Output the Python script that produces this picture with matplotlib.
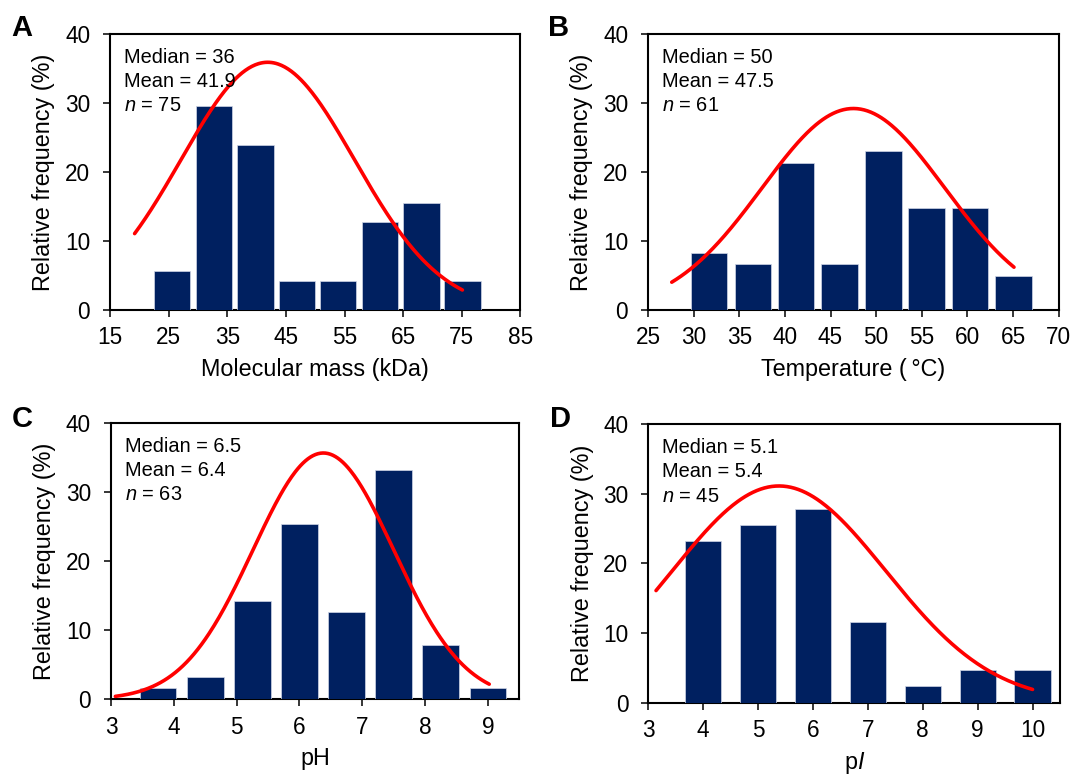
import numpy as np
import matplotlib
matplotlib.use("Agg")
import matplotlib.pyplot as plt

plt.rcParams['font.family'] = ['Liberation Sans', 'DejaVu Sans']
plt.rcParams['mathtext.fontset'] = 'custom'
plt.rcParams['mathtext.rm'] = 'Liberation Sans'
plt.rcParams['mathtext.it'] = 'Liberation Sans:italic'

# ---------------- data ----------------
# Panel A: molecular mass
a_centers = [25.6, 32.7, 39.8, 46.9, 53.9, 61.0, 68.1, 75.1]
a_freq = [5.6, 29.5, 23.9, 4.2, 4.2, 12.7, 15.5, 4.2]
a_fit = dict(mean=41.9, sd=14.8, peak=35.9, x0=19.2, x1=75.1)
a_stats = ["Median = 36", "Mean = 41.9", "$n$ = 75"]

# Panel B: temperature
b_centers = [31.7, 36.5, 41.2, 46.0, 50.8, 55.5, 60.3, 65.05]
b_freq = [8.2, 6.6, 21.3, 6.6, 23.0, 14.75, 14.75, 4.9]
b_fit = dict(mean=47.5, sd=10.0, peak=29.2, x0=27.6, x1=65.1)
b_stats = ["Median = 50", "Mean = 47.5", "$n$ = 61"]

# Panel C: pH
c_centers = [3.75, 4.5, 5.25, 6.0, 6.75, 7.5, 8.25, 9.0]
c_freq = [1.6, 3.2, 14.3, 25.4, 12.7, 33.3, 7.9, 1.6]
c_fit = dict(mean=6.38, sd=1.12, peak=35.7, x0=3.07, x1=9.02)
c_stats = ["Median = 6.5", "Mean = 6.4", "$n$ = 63"]

# Panel D: pI
d_centers = [4, 5, 6, 7, 8, 9, 10]
d_freq = [23.2, 25.5, 27.8, 11.5, 2.3, 4.6, 4.6]
d_fit = dict(mean=5.38, sd=1.95, peak=31.1, x0=3.14, x1=10.0)
d_stats = ["Median = 5.1", "Mean = 5.4", "$n$ = 45"]

BAR = '#002060'
RED = '#ff0000'

fig = plt.figure(figsize=(10.72, 7.76), dpi=100)

panels = [
    dict(rect=[0.1026, 0.6005, 0.3829, 0.3557], c=a_centers, f=a_freq, fit=a_fit,
         stats=a_stats, w=6.2, xlim=(15, 85), xt=np.arange(15, 86, 10),
         xlabel='Molecular mass (kDa)', letter='A', lx=22, ly=28),
    dict(rect=[0.6045, 0.6005, 0.3831, 0.3557], c=b_centers, f=b_freq, fit=b_fit,
         stats=b_stats, w=4.0, xlim=(25, 70), xt=np.arange(25, 71, 5),
         xlabel='Temperature (\u2009°C)', letter='B', lx=559, ly=28),
    dict(rect=[0.1035, 0.0986, 0.3810, 0.3559], c=c_centers, f=c_freq, fit=c_fit,
         stats=c_stats, w=0.585, xlim=(3, 9.5), xt=np.arange(3, 10, 1),
         xlabel='pH', letter='C', lx=22, ly=419),
    dict(rect=[0.6048, 0.0947, 0.3840, 0.3589], c=d_centers, f=d_freq, fit=d_fit,
         stats=d_stats, w=0.66, xlim=(3, 10.5), xt=np.arange(3, 11, 1),
         xlabel='p$I$', letter='D', lx=561, ly=419),
]

W, H = 1072, 776
for p in panels:
    ax = fig.add_axes(p['rect'])
    ax.bar(p['c'], p['f'], width=p['w'], color=BAR, edgecolor='#d0d6e6',
           linewidth=0.5, zorder=3)
    fit = p['fit']
    xs = np.linspace(fit['x0'], fit['x1'], 300)
    ys = fit['peak'] * np.exp(-0.5 * ((xs - fit['mean']) / fit['sd']) ** 2)
    ax.plot(xs, ys, color=RED, lw=2.6, zorder=4, solid_capstyle='round')
    ax.set_xlim(*p['xlim'])
    ax.set_ylim(0, 40)
    ax.set_xticks(p['xt'])
    ax.set_yticks([0, 10, 20, 30, 40])
    for s in ax.spines.values():
        s.set_linewidth(1.5)
        s.set_color('black')
    ax.tick_params(axis='both', direction='out', length=4.8, width=1.1,
                   labelsize=16.3, color='black')
    ax.tick_params(axis='x', pad=7)
    ax.tick_params(axis='y', pad=9.5)
    ax.set_ylabel('Relative frequency (%)', fontsize=16.8, labelpad=7)
    ax.set_xlabel(p['xlabel'], fontsize=16.8, labelpad=6)
    ys_txt = [0.895, 0.808, 0.721]
    for t, yy in zip(p['stats'], ys_txt):
        ax.text(0.034, yy, t, transform=ax.transAxes, fontsize=14.4,
                ha='left', va='baseline', zorder=5)
    fig.text(p['lx'] / W, 1 - p['ly'] / H, p['letter'], fontsize=21,
             fontweight='bold', ha='center', va='center')

fig.savefig('out.png', dpi=100)
